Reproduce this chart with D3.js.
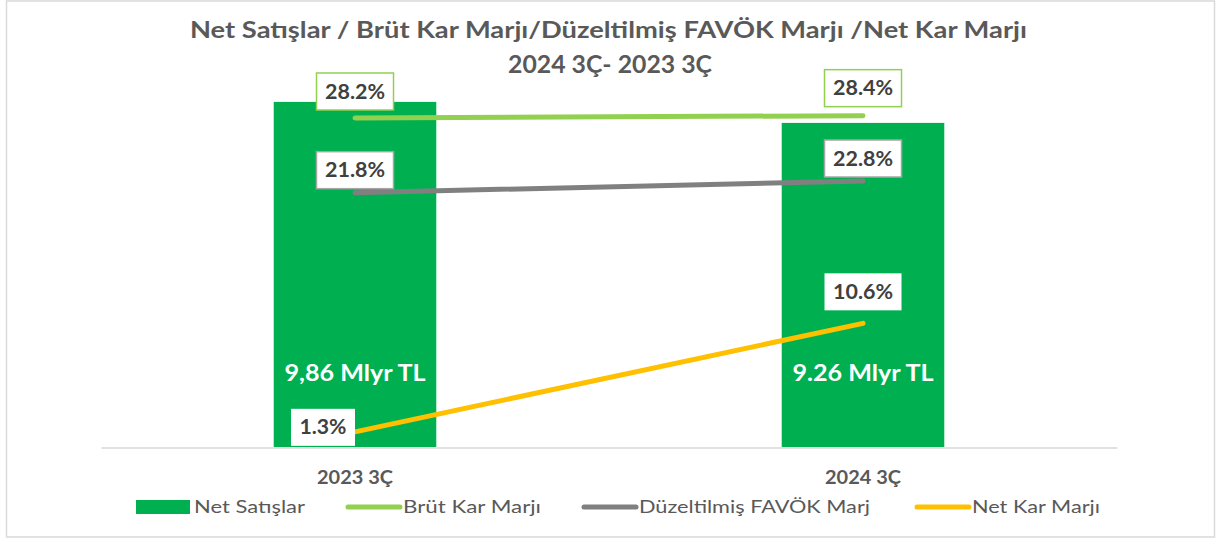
<!DOCTYPE html>
<html><head><meta charset="utf-8">
<script src="https://cdn.jsdelivr.net/npm/d3@7"></script>
<style>body{margin:0;background:#fff}svg{display:block}</style>
</head><body>
<script>
const categories = ["2023 3Ç", "2024 3Ç"];
const netSales = [9.86, 9.26];
const netSalesLabels = ["9,86 Mlyr TL", "9.26 Mlyr TL"];
const brutMargin = [28.2, 28.4];
const favokMargin = [21.8, 22.8];
const netMargin = [1.3, 10.6];
const titleLines = ["Net Satışlar / Brüt Kar Marjı/Düzeltilmiş FAVÖK Marjı /Net Kar Marjı", "2024 3Ç- 2023 3Ç"];
const legendNames = ["Net Satışlar", "Brüt Kar Marjı", "Düzeltilmiş FAVÖK Marj", "Net Kar Marjı"];

const W = 1217, H = 541;
const FONT = "Lato, 'Open Sans', sans-serif";
const svg = d3.select("body").append("svg").attr("width", W).attr("height", H);

// outer frame
svg.append("rect").attr("x", 6.5).attr("y", 1).attr("width", 1208).attr("height", 536)
  .attr("fill", "#fff").attr("stroke", "#d9d9d9").attr("stroke-width", 1.5);

function fit(sel, w) { sel.attr("textLength", w).attr("lengthAdjust", "spacingAndGlyphs"); return sel; }

// title
fit(svg.append("text").attr("x", 608.5).attr("y", 38).attr("text-anchor", "middle")
  .attr("font-family", FONT).attr("font-weight", "bold").attr("font-size", 23).attr("fill", "#595959")
  .text(titleLines[0]), 837);
fit(svg.append("text").attr("x", 610).attr("y", 73).attr("text-anchor", "middle")
  .attr("font-family", FONT).attr("font-weight", "bold").attr("font-size", 24).attr("fill", "#595959")
  .text(titleLines[1]), 204);

const x = d3.scaleBand().domain(categories).range([101, 1117]).paddingInner(0.68).paddingOuter(0.34);
const yBar = d3.scaleLinear().domain([0, 10]).range([447, 97]);
const yPct = d3.scaleLinear().domain([0, 30]).range([447, 97]);
const cx = c => x(c) + x.bandwidth() / 2;

// bars
svg.selectAll("rect.bar").data(categories).join("rect").attr("class", "bar")
  .attr("x", d => x(d)).attr("width", x.bandwidth())
  .attr("y", (d, i) => yBar(netSales[i])).attr("height", (d, i) => yBar(0) - yBar(netSales[i]))
  .attr("fill", "#00b050");

// axis line
const axis = svg.append("g").attr("transform", "translate(0,447.5)")
  .call(d3.axisBottom(x).tickSize(0).tickPadding(24));
axis.select(".domain").attr("stroke", "#d9d9d9").attr("stroke-width", 1.5);
axis.selectAll(".tick text").attr("font-family", FONT).attr("font-weight", "bold")
  .attr("font-size", 18).attr("fill", "#595959").attr("dy", "0.71em")
  .each(function () { fit(d3.select(this), 76); });

// bar value labels
svg.selectAll("text.barlab").data(categories).join("text").attr("class", "barlab")
  .attr("x", d => cx(d)).attr("y", 381).attr("text-anchor", "middle")
  .attr("font-family", FONT).attr("font-weight", "bold").attr("font-size", 23).attr("fill", "#fff")
  .text((d, i) => netSalesLabels[i])
  .each(function () { fit(d3.select(this), 141); });

const series = [
  { vals: brutMargin, color: "#92d050", box: "#92d050", gap: [8, 9] },
  { vals: favokMargin, color: "#808080", box: "#a6a6a6", gap: [4, 4] },
  { vals: netMargin, color: "#ffc000", box: "none", gap: [null, 13] }
];
const line = d3.line().x(d => cx(d.c)).y(d => yPct(d.v));
series.forEach(s => {
  const pts = categories.map((c, i) => ({ c, v: s.vals[i] }));
  svg.append("path").datum(pts).attr("d", line).attr("fill", "none")
    .attr("stroke", s.color).attr("stroke-width", 5).attr("stroke-linecap", "round");
});

// data labels
series.forEach(s => {
  categories.forEach((c, i) => {
    const v = s.vals[i];
    const label = v.toFixed(1) + "%";
    const px = cx(c), py = yPct(v);
    const g = svg.append("g");
    const t = g.append("text").attr("font-family", FONT).attr("font-weight", "bold")
      .attr("font-size", 20).attr("fill", "#404040").attr("text-anchor", "middle").text(label);
    const tw = label.length === 5 ? 60 : 47;
    fit(t, tw);
    const bw = tw + 17, bh = 37;
    let bx, by;
    if (s.gap[i] === null) { bx = px - bw; by = py + 14 - bh; }
    else { bx = px - bw / 2; by = py - s.gap[i] - bh; }
    g.insert("rect", "text").attr("x", bx).attr("y", by).attr("width", bw).attr("height", bh)
      .attr("fill", "#fff").attr("stroke", s.box).attr("stroke-width", 1.5);
    t.attr("x", bx + bw / 2).attr("y", by + bh / 2 + 7);
  });
});

// legend
const leg = svg.append("g").attr("font-family", FONT).attr("font-size", 17).attr("fill", "#595959");
const legItems = [
  { sym: "rect", color: "#00b050", x0: 136, tx: 194, tw: 111 },
  { sym: "line", color: "#92d050", x0: 346, tx: 403, tw: 138 },
  { sym: "line", color: "#808080", x0: 582, tx: 639, tw: 231 },
  { sym: "line", color: "#ffc000", x0: 915, tx: 972, tw: 128 }
];
legItems.forEach((it, i) => {
  if (it.sym === "rect") leg.append("rect").attr("x", it.x0).attr("y", 500).attr("width", 54).attr("height", 14).attr("fill", it.color);
  else leg.append("line").attr("x1", it.x0 + 2).attr("x2", it.x0 + 54).attr("y1", 507).attr("y2", 507)
    .attr("stroke", it.color).attr("stroke-width", 5).attr("stroke-linecap", "round");
  fit(leg.append("text").attr("x", it.tx).attr("y", 513).text(legendNames[i]), it.tw);
});
</script>
</body></html>
